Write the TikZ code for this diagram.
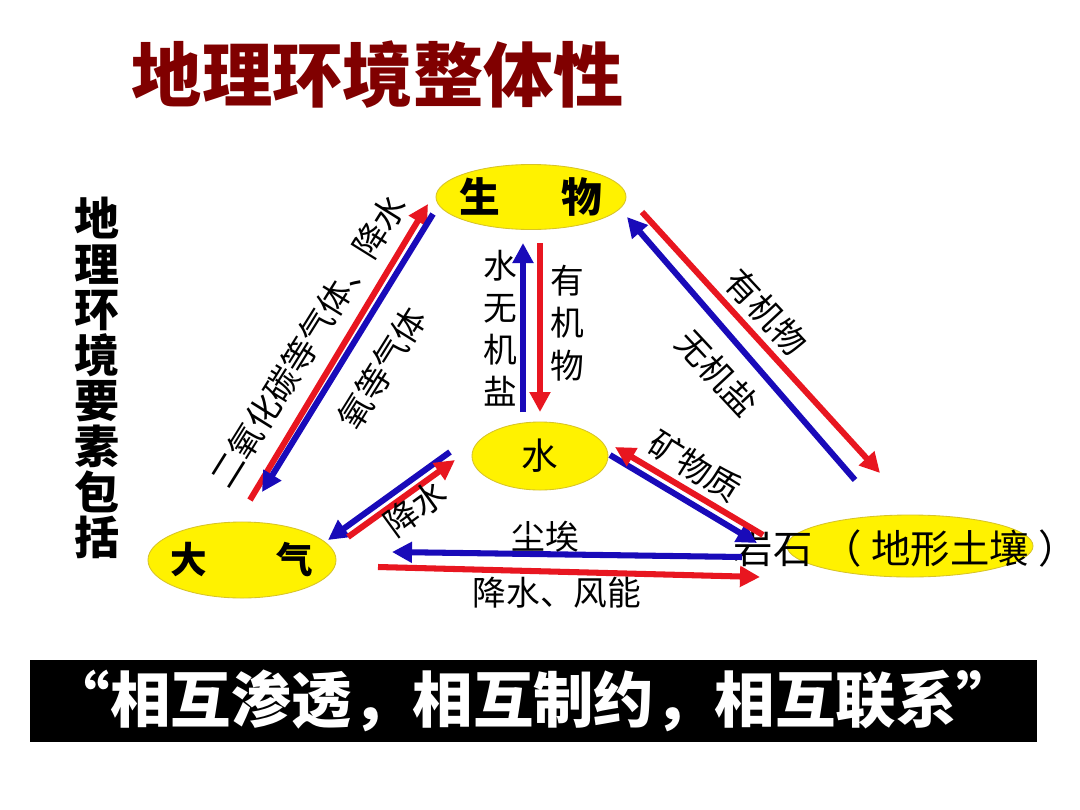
\documentclass[tikz,border=0pt]{standalone}
\usepackage{fontspec}
\setmainfont{Noto Sans CJK SC}
\usetikzlibrary{shapes.geometric, arrows.meta}
\definecolor{titlered}{RGB}{128,0,0}
\definecolor{arrred}{RGB}{232,22,32}
\definecolor{arrblue}{RGB}{25,10,185}
\definecolor{elemyellow}{RGB}{255,242,0}
\definecolor{elemborder}{RGB}{215,195,40}
\tikzset{
  elem/.style={ellipse, fill=elemyellow, draw=elemborder, line width=0.6pt, inner sep=0pt},
  flow/.style={line width=4.3pt, -{Triangle[length=0.5cm, width=0.5cm]}},
  lab/.style={font=\fontsize{24}{30}\selectfont, inner sep=0pt, align=center}
}
\begin{document}
\begin{tikzpicture}[x=0.025cm, y=-0.025cm]
    \fill[white] (0,0) rectangle (1080,810);
    % Title
    \node[font=\fontsize{50}{50}\selectfont\bfseries, text=titlered] (title) at (378,75) {地理环境整体性};
    \node[font=\fontsize{32}{32.4}\selectfont\bfseries, align=center, inner sep=0pt] (side) at (97,378)
        {地\\理\\环\\境\\要\\素\\包\\括};
    % Elements
    \node[elem, minimum width=4.75cm, minimum height=1.625cm,
        font=\fontsize{29}{29}\selectfont\bfseries] (bio) at (531,197) {\makebox[0pt]{生\hspace{1.5em}物}};
    \node[elem, minimum width=3.4cm, minimum height=1.7cm,
        font=\fontsize{26}{26}\selectfont] (water) at (540,456) {\makebox[0pt]{水}};
    \node[elem, minimum width=4.7cm, minimum height=1.9cm,
        font=\fontsize{26}{26}\selectfont\bfseries] (air) at (242,560) {\makebox[0pt]{大\hspace{1.9em}气}};
    \node[elem, minimum width=6.15cm, minimum height=1.55cm] (rock) at (910,546) {};
    \node[font=\fontsize{28}{28}\selectfont, inner sep=0pt] (rock-text) at (906,549)
        {岩石\hspace{0.25em}（\hspace{0.25em}地形土壤\hspace{0.25em}）};
    % Arrow ends
    \foreach \name/\x/\y in {
        ab-r0/250/500, ab-r1/428/204,
        ab-b0/433/214, ab-b1/262/492,
        wb-b0/523/412, wb-b1/523/243,
        wb-r0/540/243, wb-r1/540/412,
        br-r0/642/212, br-r1/880/473,
        br-b0/855/480, br-b1/627/217,
        wa-b0/450/452, wa-b1/328/540,
        wa-r0/348/537, wa-r1/455/460,
        wr-b0/610/455, wr-b1/757/543,
        wr-r0/763/535, wr-r1/615/447,
        ar-b0/742/557, ar-b1/392/552,
        ar-r0/378/567, ar-r1/760/577} {
        \coordinate (\name) at (\x,\y);
    }
    % Arrows
    \foreach \e/\c in {ab-r/arrred, ab-b/arrblue, wb-b/arrblue, wb-r/arrred,
        br-r/arrred, br-b/arrblue, wa-b/arrblue, wa-r/arrred,
        wr-b/arrblue, wr-r/arrred, ar-b/arrblue, ar-r/arrred} {
        \draw[flow, \c] (\e0) -- (\e1);
    }
    % Labels
    \node[lab, rotate=58] (ab-top) at (308,341) {二氧化碳等气体、降水};
    \node[lab, rotate=58] (ab-low) at (382,368) {氧等气体};
    \node[lab] (wb-left) at (500,328) {水\\无\\机\\盐};
    \node[lab] (wb-right) at (567,323) {有\\机\\物};
    \node[lab, rotate=-47] (br-top) at (766,312) {有机物};
    \node[lab, rotate=-47] (br-low) at (717,373) {无机盐};
    \node[lab, rotate=36] (wa-lab) at (415,508) {降水};
    \node[lab, rotate=-32] (wr-lab) at (695,466) {矿物质};
    \node[lab] (ar-top) at (545,537) {尘埃};
    \node[lab] (ar-low) at (557,593) {降水、风能};
    % Banner
    \node[fill=black, minimum width=25.175cm, minimum height=2.05cm, inner sep=0pt,
        text=white, font=\fontsize{43}{43}\selectfont\bfseries] (banner) at (533.5,701)
        {“相互渗透，相互制约，相互联系”};
\end{tikzpicture}
\end{document}
